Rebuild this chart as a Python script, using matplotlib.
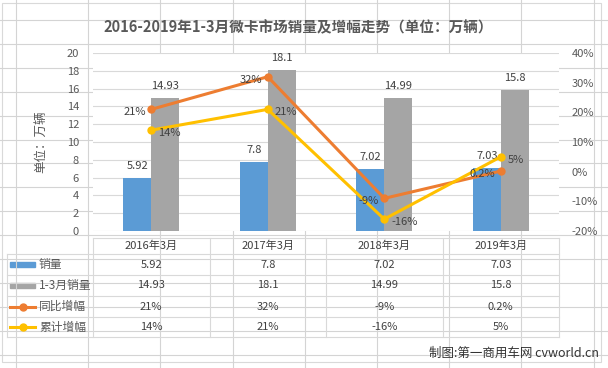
import numpy as np
import matplotlib
matplotlib.use('Agg')
import matplotlib.pyplot as plt
from matplotlib.patches import Rectangle

plt.rcParams['font.family'] = ['Noto Sans CJK SC', 'DejaVu Sans']

# данные
years = ['2016年3月', '2017年3月', '2018年3月', '2019年3月']
sales_march = [5.92, 7.8, 7.02, 7.03]
sales_q1 = [14.93, 18.1, 14.99, 15.8]
yoy_growth = [21, 32, -9, 0.2]
cum_growth = [14, 21, -16, 5]
series_names = ['销量', '1-3月销量', '同比增幅', '累计增幅']

c_blue, c_gray, c_orange, c_yellow = '#5B9BD5', '#A5A5A5', '#ED7D31', '#FFC000'
txt = '#595959'
grid_c = '#D9D9D9'

W, H = 608, 368
fig = plt.figure(figsize=(W / 100, H / 100), dpi=100)

# фон: сетка листа и область диаграммы (в пикселях)
bg = fig.add_axes([0, 0, 1, 1], zorder=0)
bg.set_xlim(0, W)
bg.set_ylim(H, 0)
bg.axis('off')
for x in np.arange(16, W, 72.2):
    bg.plot([x, x], [0, H], color='#D4D4D4', lw=0.8)
for y in np.arange(20, H, 23.9):
    bg.plot([0, W], [y, y], color='#D4D4D4', lw=0.8)
bg.add_patch(Rectangle((2, 3), 599, 359, facecolor='white', edgecolor=grid_c, lw=0.8))

bg.text(298, 27, '2016-2019年1-3月微卡市场销量及增幅走势（单位：万辆）',
        ha='center', va='center', fontsize=10.5, fontweight='bold', color=txt)

# основная область графика
x0, x1, ytop, ybot = 93, 559, 53, 231
ax = fig.add_axes([x0 / W, 1 - ybot / H, (x1 - x0) / W, (ybot - ytop) / H], zorder=1)
ax2 = ax.twinx()

xs = np.arange(len(years))
bw = 0.24
b1 = ax.bar(xs - bw / 2, sales_march, bw, color=c_blue)
b2 = ax.bar(xs + bw / 2, sales_q1, bw, color=c_gray)
for bars, vals in [(b1, sales_march), (b2, sales_q1)]:
    for r, v in zip(bars, vals):
        ax.annotate(f'{v:g}', (r.get_x() + r.get_width() / 2, v), xytext=(0, 5),
                    textcoords='offset points', ha='center', va='bottom',
                    fontsize=8, color='#404040')

ax.set_xlim(-0.5, len(years) - 0.5)
ax.set_ylim(0, 20)
ax.set_yticks(range(0, 21, 2))
ax.set_xticks([])
ax.yaxis.grid(True, color=grid_c, lw=0.8)
ax.set_axisbelow(True)
for s in ax.spines.values():
    s.set_visible(False)
for s in ax2.spines.values():
    s.set_visible(False)
ax.tick_params(axis='y', length=0, labelsize=8, labelcolor=txt, pad=10)
ax.set_ylabel('单位：万辆', fontsize=9, color=txt, labelpad=14)

ax2.plot(xs, yoy_growth, color=c_orange, lw=2.2, marker='o', ms=5)
ax2.plot(xs, cum_growth, color=c_yellow, lw=2.2, marker='o', ms=5)
for xv, v in zip(xs, yoy_growth):
    ax2.annotate(f'{v:g}%', (xv, v), xytext=(-4, -2), textcoords='offset points',
                 ha='right', va='center', fontsize=8, color='#404040')
for xv, v in zip(xs, cum_growth):
    ax2.annotate(f'{v:g}%', (xv, v), xytext=(5, -2), textcoords='offset points',
                 ha='left', va='center', fontsize=8, color='#404040')
ax2.set_ylim(-20, 40)
ax2.set_yticks(range(-20, 41, 10))
ax2.set_yticklabels([f'{t}%' for t in range(-20, 41, 10)])
ax2.tick_params(axis='y', length=0, labelsize=8, labelcolor=txt, pad=9)
ax.set_xlim(-0.5, len(years) - 0.5)

# таблица данных
col_x = np.linspace(x0, x1, len(years) + 1)
row_y = [238, 254, 275, 296, 317, 337]
bg.plot([x0, x1], [row_y[0], row_y[0]], color=grid_c, lw=0.8)
for y in row_y[1:]:
    bg.plot([7, x1], [y, y], color=grid_c, lw=0.8)
bg.plot([7, 7], [row_y[1], row_y[-1]], color=grid_c, lw=0.8)
for x in col_x:
    bg.plot([x, x], [row_y[0], row_y[-1]], color=grid_c, lw=0.8)

for i, yr in enumerate(years):
    bg.text((col_x[i] + col_x[i + 1]) / 2, (row_y[0] + row_y[1]) / 2, yr,
            ha='center', va='center', fontsize=8, color='#404040')

rows = [
    [f'{v:g}' for v in sales_march],
    [f'{v:g}' for v in sales_q1],
    [f'{v:g}%' for v in yoy_growth],
    [f'{v:g}%' for v in cum_growth],
]
colors = [c_blue, c_gray, c_orange, c_yellow]
for r in range(4):
    yc = (row_y[r + 1] + row_y[r + 2]) / 2
    if r < 2:
        bg.add_patch(Rectangle((10, yc - 2.5), 25, 5, color=colors[r]))
    else:
        bg.plot([10, 35], [yc, yc], color=colors[r], lw=2.2)
        bg.plot([22.5], [yc], 'o', color=colors[r], ms=5)
    bg.text(39, yc, series_names[r], ha='left', va='center', fontsize=8.5, color=txt)
    for i, s in enumerate(rows[r]):
        bg.text((col_x[i] + col_x[i + 1]) / 2, yc, s,
                ha='center', va='center', fontsize=8, color='#404040')

bg.text(599, 353, '制图:第一商用车网 cvworld.cn', ha='right', va='center',
        fontsize=9, color='#333333')

fig.savefig('out.png', dpi=100)
